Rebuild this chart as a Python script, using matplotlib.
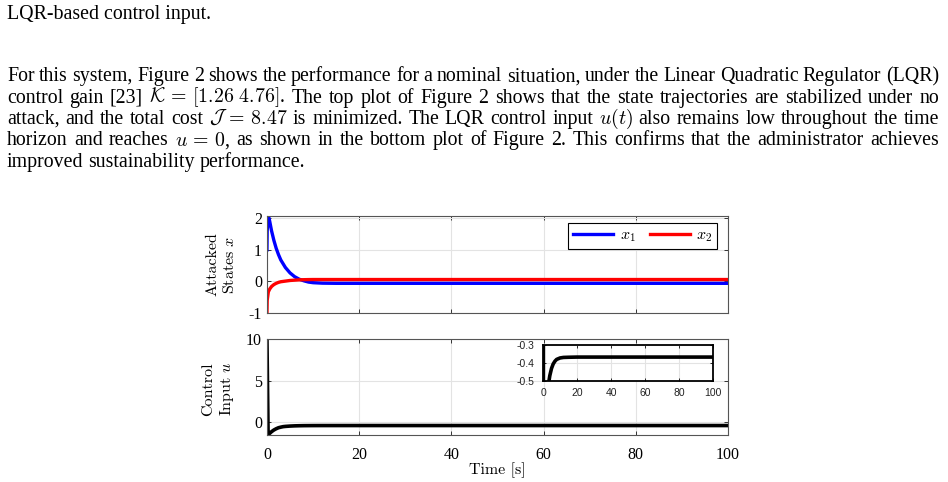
import matplotlib
matplotlib.use('Agg')
import matplotlib.pyplot as plt

plt.rcParams['axes.unicode_minus'] = False

# texto de la pagina
titulo = "LQR-based control input."
parrafo = [
    "For this system, Figure 2 shows the performance for a nominal situation, under the Linear Quadratic Regulator (LQR)",
    r"control gain [23] $\mathcal{K}\,=\,[1.26\ 4.76]$. The top plot of Figure 2 shows that the state trajectories are stabilized under no",
    r"attack, and the total cost $\mathcal{J}\,=\,8.47$ is minimized. The LQR control input $u(t)$ also remains low throughout the time",
    r"horizon and reaches $u\,=\,0$, as shown in the bottom plot of Figure 2. This confirms that the administrator achieves",
    "improved sustainability performance.",
]

# estados
t_estados = [0, 0.05, 0.3, 0.6, 1, 1.5, 2, 2.5, 3, 4, 5, 6, 7, 8, 9, 10, 12, 15, 20, 100]
x1 = [1.0, 1.6, 2.1, 1.9, 1.6, 1.3, 1.05, 0.85, 0.68, 0.44, 0.27, 0.15, 0.07, 0.02, -0.02,
      -0.04, -0.055, -0.06, -0.06, -0.06]
x2 = [-1.0, -0.6, -0.33, -0.24, -0.16, -0.1, -0.06, -0.03, -0.01, 0.01, 0.03, 0.04, 0.05,
      0.055, 0.058, 0.06, 0.06, 0.06, 0.06, 0.06]

# entrada de control
t_control = [0, 0.25, 0.5, 1, 1.5, 2, 2.5, 3, 3.5, 4, 5, 6, 7, 8, 10, 12, 15, 20, 100]
u = [10, -1.5, -1.35, -1.1, -0.9, -0.75, -0.63, -0.56, -0.5, -0.47, -0.43, -0.405, -0.39,
     -0.38, -0.372, -0.369, -0.368, -0.367, -0.367]

ticks_t = [0, 20, 40, 60, 80, 100]

SERIF = 'Liberation Serif'
TAM = 14.3


def partir(linea):
    toks, cur, en_math = [], '', False
    for ch in linea:
        if ch == '$':
            en_math = not en_math
        if ch == ' ' and not en_math:
            if cur:
                toks.append(cur)
            cur = ''
        else:
            cur += ch
    if cur:
        toks.append(cur)
    return toks


def justificar(fig, lineas, x0, x1, y0, dy):
    r = fig.canvas.get_renderer()
    W = fig.bbox.width
    espacio = 0.25 * TAM * fig.dpi / 72 / W
    for i, linea in enumerate(lineas):
        toks = partir(linea)
        y = y0 - i * dy
        arts = [fig.text(0, y, t, va='baseline', ha='left', fontsize=TAM,
                         family=SERIF, math_fontfamily='cm') for t in toks]
        anchos = [a.get_window_extent(r).width / W for a in arts]
        if i == len(lineas) - 1:
            hueco = espacio
        else:
            hueco = (x1 - x0 - sum(anchos)) / (len(toks) - 1)
        x = x0
        for a, w in zip(arts, anchos):
            a.set_x(x)
            x += w + hueco


fig = plt.figure(figsize=(9.48, 4.82), dpi=100)

fig.text(7 / 948, 1 - 19 / 482, titulo, va='baseline', ha='left', fontsize=TAM, family=SERIF)
justificar(fig, parrafo, 7 / 948, 939 / 948, 1 - 81.3 / 482, 21.3 / 482)


def estilo(ax):
    ax.set_xlim(0, 100)
    ax.set_xticks(ticks_t)
    ax.grid(True, color='#e3e3e3', lw=0.8)
    ax.set_axisbelow(True)
    for s in ax.spines.values():
        s.set_color('#555555')
        s.set_linewidth(0.8)
    ax.tick_params(direction='in', length=3, width=0.7, color='#333333', top=True, right=True,
                   labelsize=11.5, labelfontfamily=SERIF)
    ax.tick_params(axis='x', pad=8.5)
    ax.tick_params(axis='y', pad=3.5)


# arriba: estados
ax1 = fig.add_axes([0.2816, 0.3506, 0.4863, 0.2012])
ax1.plot(t_estados, x1, color=(0, 0, 1), lw=2.4, label=r'$x_1$', solid_joinstyle='round')
ax1.plot(t_estados, x2, color=(1, 0, 0), lw=2.4, label=r'$x_2$', solid_joinstyle='round')
estilo(ax1)
ax1.set_ylim(-1, 2.07)
ax1.set_yticks([-1, 0, 1, 2])
ax1.set_xticklabels([])
leg = ax1.legend(loc='upper right', bbox_to_anchor=(0.976, 0.93), borderaxespad=0, ncol=2,
                 fontsize=11.5, handlelength=2.5, handletextpad=0.4, columnspacing=0.9,
                 borderpad=0.3, fancybox=False, framealpha=1, edgecolor='black')
leg.get_frame().set_linewidth(0.8)
for tx in leg.get_texts():
    tx.set_math_fontfamily('cm')
ax1.text(-0.099, 0.5, 'Attacked\nStates $x$', transform=ax1.transAxes, rotation=90,
         ha='center', va='center', multialignment='center', fontsize=11.5, family='cmr10',
         math_fontfamily='cm', linespacing=1.25)

# abajo: control
ax2 = fig.add_axes([0.2816, 0.0975, 0.4863, 0.1992])
ax2.plot(t_control, u, color='black', lw=2.6)
estilo(ax2)
ax2.set_ylim(-1.5, 10)
ax2.set_yticks([0, 5, 10])
ax2.set_xlabel('Time [s]', family='cmr10', fontsize=11.5, labelpad=0)
ax2.text(-0.105, 0.48, 'Control\nInput $u$', transform=ax2.transAxes, rotation=90,
         ha='center', va='center', multialignment='center', fontsize=11.5, family='cmr10',
         math_fontfamily='cm', linespacing=1.25)

# zoom
ax3 = fig.add_axes([0.5728, 0.2095, 0.1793, 0.0747])
ax3.plot(t_control, u, color='black', lw=2.6)
ax3.set_xlim(0, 100)
ax3.set_ylim(-0.5, -0.3)
ax3.set_xticks(ticks_t)
ax3.set_yticks([-0.5, -0.4, -0.3])
ax3.grid(True, color='#e3e3e3', lw=0.8)
for s in ax3.spines.values():
    s.set_color('black')
    s.set_linewidth(1.3)
ax3.tick_params(direction='in', length=2.5, width=0.7, top=True, right=True,
                labelsize=7.5, labelfontfamily='Liberation Sans', colors='#222222')
ax3.tick_params(axis='x', pad=5)
ax3.tick_params(axis='y', pad=6)

fig.savefig('out.png', dpi=100)
